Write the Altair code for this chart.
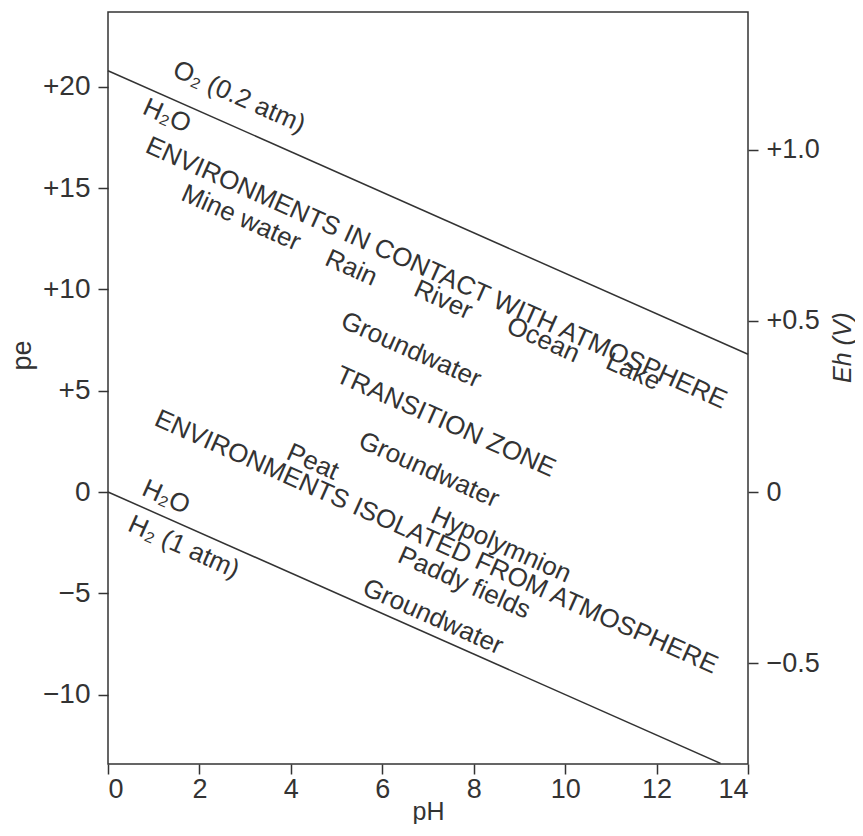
import altair as alt
import pandas as pd

# Boundary lines of water stability field
line_name = ["O2/H2O", "O2/H2O", "H2O/H2", "H2O/H2"]
line_ph = [0, 14, 0, 13.4]
line_pe = [20.8, 6.8, 0, -13.4]

# Annotations
label_text = [
    "O₂ (0.2 atm)", "H₂O", "ENVIRONMENTS IN CONTACT WITH ATMOSPHERE",
    "Mine water", "Rain", "River", "Ocean", "Lake",
    "Groundwater", "TRANSITION ZONE", "Groundwater", "Peat",
    "ENVIRONMENTS ISOLATED FROM ATMOSPHERE", "H₂O", "H₂ (1 atm)",
    "Hypolymnion", "Paddy fields", "Groundwater",
]
label_ph = [2.87, 1.29, 7.18, 2.91, 5.32, 7.33, 9.52, 11.49,
            6.63, 7.39, 7.02, 4.48, 7.18, 1.27, 1.66, 8.6, 7.79, 7.11]
label_pe = [19.5, 18.57, 10.81, 13.53, 11.06, 9.48, 7.51, 5.93,
            7.01, 3.46, 1.09, 1.48, -2.47, -0.25, -2.72, -2.62, -4.49, -6.17]

pe_domain = [-13.43, 23.7]
eh_factor = 0.0592
eh_domain = [pe_domain[0] * eh_factor, pe_domain[1] * eh_factor]

x_ticks = [0, 2, 4, 6, 8, 10, 12, 14]
pe_ticks = [-10, -5, 0, 5, 10, 15, 20]
eh_ticks = [-0.5, 0, 0.5, 1.0]

FONT = "Liberation Sans"
INK = "#333333"

lines_df = pd.DataFrame({"line": line_name, "pH": line_ph, "pe": line_pe})
labels_df = pd.DataFrame({"text": label_text, "pH": label_ph, "pe": label_pe})
eh_df = pd.DataFrame({"Eh": eh_domain})

xscale = alt.Scale(domain=[0, 14], nice=False, zero=False)
yscale = alt.Scale(domain=pe_domain, nice=False, zero=False)

axis_common = dict(
    grid=False, domain=False, tickColor=INK, tickWidth=1.5, tickSize=10,
    labelFont=FONT, labelColor=INK,
    titleFont=FONT, titleColor=INK, titleFontWeight="normal",
)

x_axis = alt.Axis(values=x_ticks, title="pH", titlePadding=-3, labelPadding=2,
                  labelFontSize=27, titleFontSize=25, **axis_common)
y_axis = alt.Axis(
    values=pe_ticks, title="pe", labelPadding=8, labelFontSize=28,
    titleFontSize=27, titleX=-86, titleY=343, titleBaseline="middle", titleAngle=270,
    labelExpr="datum.value > 0 ? '+' + datum.value : (datum.value < 0 ? '\u2212' + abs(datum.value) : '0')",
    **axis_common,
)
eh_axis = alt.Axis(
    values=eh_ticks, title="Eh (V)", orient="right", labelPadding=8, labelFontSize=27,
    titleFontSize=25, titleFontStyle="italic", titleX=94, titleY=335,
    titleBaseline="middle", titleAngle=270,
    labelExpr="datum.value > 0 ? '+' + format(datum.value, '.1f') : (datum.value < 0 ? '\u2212' + format(abs(datum.value), '.1f') : '0')",
    **axis_common,
)

lines = alt.Chart(lines_df).mark_line(color=INK, strokeWidth=1.5).encode(
    x=alt.X("pH:Q", scale=xscale, axis=x_axis),
    y=alt.Y("pe:Q", scale=yscale, axis=y_axis),
    detail="line:N",
)

texts = alt.Chart(labels_df).mark_text(
    font=FONT, fontSize=26, color=INK, angle=24, align="center", baseline="middle"
).encode(
    x=alt.X("pH:Q", scale=xscale),
    y=alt.Y("pe:Q", scale=yscale),
    text="text:N",
)

eh_layer = alt.Chart(eh_df).mark_point(opacity=0, size=0).encode(
    y=alt.Y("Eh:Q", scale=alt.Scale(domain=eh_domain, nice=False, zero=False), axis=eh_axis),
)

left = alt.layer(lines, texts)
chart = alt.layer(left, eh_layer).resolve_scale(y="independent").properties(
    width=640, height=752,
    padding={"left": 0, "top": 4, "right": 0, "bottom": 0},
).configure(background="white").configure_view(stroke=INK, strokeWidth=1.5)

chart.save("out.html", embed_options={"renderer": "svg", "actions": False})
